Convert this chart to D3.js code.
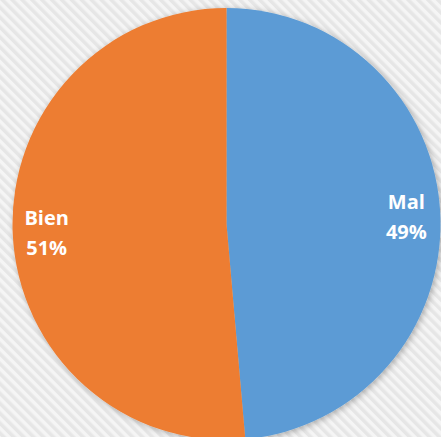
<!DOCTYPE html>
<html>
<head>
<meta charset="utf-8">
<script src="https://cdnjs.cloudflare.com/ajax/libs/d3/7.8.5/d3.min.js"></script>
<style>
  body { margin: 0; overflow: hidden; }
</style>
</head>
<body>
<div id="chart"></div>
<script>
// data (shares in %)
const categories = ['Mal', 'Bien'];
const values = [48.6, 51.4];
const labels = ['49%', '51%'];
const colors = ['#5b9bd5', '#ed7d31'];

const dim = { width: 441, height: 437 };
const cx = 226.5, cy = 224;
const rx = 214, ry = 216;

let svg = d3.select('#chart').append('svg')
    .attr('width', dim.width)
    .attr('height', dim.height);

let defs = svg.append('defs');

// diagonal stripes background
let pat = defs.append('pattern')
    .attr('id', 'stripes')
    .attr('patternUnits', 'userSpaceOnUse')
    .attr('width', 7).attr('height', 7)
    .attr('patternTransform', 'rotate(-45)');
pat.append('rect').attr('width', 7).attr('height', 7).attr('fill', '#f5f5f5');
pat.append('rect').attr('width', 3.5).attr('height', 7).attr('fill', '#e6e6e6');

let shadow = defs.append('filter')
    .attr('id', 'shadow')
    .attr('x', '-10%').attr('y', '-10%')
    .attr('width', '120%').attr('height', '120%');
shadow.append('feDropShadow')
    .attr('dx', 1.5).attr('dy', 1.5)
    .attr('stdDeviation', 3)
    .attr('flood-color', '#000')
    .attr('flood-opacity', 0.3);

svg.append('rect')
    .attr('width', dim.width)
    .attr('height', dim.height)
    .attr('fill', 'url(#stripes)');

let pie = d3.pie().sort(null).value(d => d);
let arcs = pie(values);

let arc = d3.arc().innerRadius(0).outerRadius(rx);
let labelArc = d3.arc().innerRadius(180).outerRadius(180);

// pie is a little taller than wide in the picture
let g = svg.append('g')
    .attr('transform', `translate(${cx},${cy}) scale(1,${ry / rx})`);

let slices = g.append('g').attr('filter', 'url(#shadow)');
slices.selectAll('path')
    .data(arcs)
    .join('path')
    .attr('d', arc)
    .attr('fill', (d, i) => colors[i]);

let txt = svg.append('g')
    .attr('transform', `translate(${cx},${cy})`)
    .selectAll('text')
    .data(arcs)
    .join('text')
    .attr('transform', d => {
        let c = labelArc.centroid(d);
        return `translate(${c[0]},${c[1] * ry / rx})`;
    })
    .attr('text-anchor', 'middle')
    .attr('font-family', 'Open Sans, sans-serif')
    .attr('font-weight', 'bold')
    .attr('font-size', 20)
    .attr('fill', '#fff');

txt.append('tspan')
    .attr('x', 0).attr('y', -7)
    .text((d, i) => categories[i]);
txt.append('tspan')
    .attr('x', 0).attr('y', 23)
    .text((d, i) => labels[i]);
</script>
</body>
</html>
